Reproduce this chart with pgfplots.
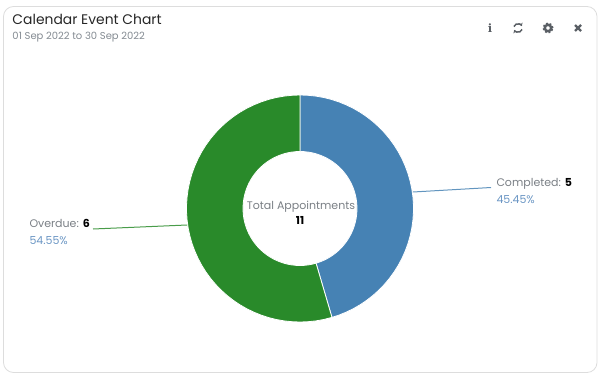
\documentclass[border=0pt]{standalone}
\usepackage{fontspec}
\setmainfont{Poppins}
\newfontfamily\sym{DejaVu Serif}
\usepackage{pgfplots}
\pgfplotsset{compat=1.18}
\usetikzlibrary{arrows.meta}
\definecolor{cblue}{HTML}{4682B4}
\definecolor{cgreen}{HTML}{298A2A}
\definecolor{ctext}{HTML}{7A7F85}
\definecolor{cpct}{HTML}{6B96C4}
\definecolor{csub}{HTML}{848B92}
\definecolor{cicon}{HTML}{5A5F65}
\definecolor{cborder}{HTML}{DDDDDD}
\begin{document}
\begin{tikzpicture}[x=1pt,y=1pt]
\begin{axis}[
  scale only axis, width=607pt, height=378pt,
  xmin=-300, xmax=307, ymin=-169.5, ymax=208.5,
  axis lines=none, clip=false,
  /tikz/every node/.append style={inner sep=0pt, outer sep=0pt},
]
% page extent
\path (axis cs:-300,208.5) rectangle (axis cs:307,-169.5);
% frame
\draw[cborder, line width=0.8pt, rounded corners=10pt] (axis cs:-296.5,202) rectangle (axis cs:297,-164);
% Completed = 5 of 11 (45.45%)
\addplot[data cs=polar, fill=cblue, draw=white, line width=0.8pt] coordinates {
(90,113.5)(86,113.5)(82,113.5)(78,113.5)(74,113.5)(70,113.5)(66,113.5)(62,113.5)(58,113.5)(54,113.5)(50,113.5)
(46,113.5)(42,113.5)(38,113.5)(34,113.5)(30,113.5)(26,113.5)(22,113.5)(18,113.5)(14,113.5)(10,113.5)(6,113.5)(2,113.5)
(-2,113.5)(-6,113.5)(-10,113.5)(-14,113.5)(-18,113.5)(-22,113.5)(-26,113.5)(-30,113.5)(-34,113.5)(-38,113.5)(-42,113.5)
(-46,113.5)(-50,113.5)(-54,113.5)(-58,113.5)(-62,113.5)(-66,113.5)(-70,113.5)(-73.64,113.5)
(-73.64,57)(-70,57)(-66,57)(-62,57)(-58,57)(-54,57)(-50,57)(-46,57)(-42,57)(-38,57)(-34,57)(-30,57)(-26,57)(-22,57)(-18,57)(-14,57)(-10,57)(-6,57)(-2,57)
(2,57)(6,57)(10,57)(14,57)(18,57)(22,57)(26,57)(30,57)(34,57)(38,57)(42,57)(46,57)(50,57)(54,57)(58,57)(62,57)(66,57)(70,57)(74,57)(78,57)(82,57)(86,57)(90,57)
} -- cycle;
% Overdue = 6 of 11 (54.55%)
\addplot[data cs=polar, fill=cgreen, draw=white, line width=0.8pt] coordinates {
(-73.64,113.5)(-78,113.5)(-82,113.5)(-86,113.5)(-90,113.5)(-94,113.5)(-98,113.5)(-102,113.5)(-106,113.5)(-110,113.5)(-114,113.5)
(-118,113.5)(-122,113.5)(-126,113.5)(-130,113.5)(-134,113.5)(-138,113.5)(-142,113.5)(-146,113.5)(-150,113.5)(-154,113.5)(-158,113.5)
(-162,113.5)(-166,113.5)(-170,113.5)(-174,113.5)(-178,113.5)(-182,113.5)(-186,113.5)(-190,113.5)(-194,113.5)(-198,113.5)(-202,113.5)
(-206,113.5)(-210,113.5)(-214,113.5)(-218,113.5)(-222,113.5)(-226,113.5)(-230,113.5)(-234,113.5)(-238,113.5)(-242,113.5)(-246,113.5)
(-250,113.5)(-254,113.5)(-258,113.5)(-262,113.5)(-266,113.5)(-270,113.5)
(-270,57)(-266,57)(-262,57)(-258,57)(-254,57)(-250,57)(-246,57)(-242,57)(-238,57)(-234,57)(-230,57)(-226,57)(-222,57)(-218,57)(-214,57)(-210,57)
(-206,57)(-202,57)(-198,57)(-194,57)(-190,57)(-186,57)(-182,57)(-178,57)(-174,57)(-170,57)(-166,57)(-162,57)(-158,57)(-154,57)(-150,57)(-146,57)
(-142,57)(-138,57)(-134,57)(-130,57)(-126,57)(-122,57)(-118,57)(-114,57)(-110,57)(-106,57)(-102,57)(-98,57)(-94,57)(-90,57)(-86,57)(-82,57)(-78,57)(-73.64,57)
} -- cycle;
% leaders
\addplot[cblue!85, no markers, line width=1pt] coordinates {(113,16.5)(191,21)};
\addplot[cgreen!85, no markers, line width=1pt] coordinates {(-207,-20.5)(-113,-16.5)};
% title
\node[anchor=base west, font=\fontsize{13.9}{15}\selectfont, text=black!85] at (axis cs:-287.5,184) {Calendar Event Chart};
\node[anchor=base west, font=\fontsize{10}{11}\selectfont, text=csub] at (axis cs:-287.5,169) {01 Sep 2022 to 30 Sep 2022};
% centre
\node[anchor=base, font=\fontsize{11}{12}\selectfont, text=ctext] at (axis cs:1,-1) {Total Appointments};
\node[anchor=base, font=\fontsize{11}{12}\selectfont\bfseries, text=black] at (axis cs:0,-15.5) {11};
% labels
\node[anchor=base west, font=\fontsize{11}{12}\selectfont, text=ctext] at (axis cs:196.5,22) {Completed: \textcolor{black}{\bfseries 5}};
\node[anchor=base west, font=\fontsize{11}{12}\selectfont, text=cpct] at (axis cs:196.5,5.5) {45.45\%};
\node[anchor=base west, font=\fontsize{11}{12}\selectfont, text=ctext] at (axis cs:-270.5,-18.5) {Overdue: \textcolor{black}{\bfseries 6}};
\node[anchor=base west, font=\fontsize{11}{12}\selectfont, text=cpct] at (axis cs:-270.5,-36) {54.55\%};
% icons
\node[anchor=center, font=\sym\bfseries\fontsize{11.5}{12}\selectfont, text=cicon] at (axis cs:190,180.5) {i};
\draw[cicon, line width=1.5pt, -{Stealth[length=3.2pt,width=4.2pt]}] (axis cs:218,180.5) ++(160:4.3pt) arc[start angle=160, end angle=25, radius=4.3pt];
\draw[cicon, line width=1.5pt, -{Stealth[length=3.2pt,width=4.2pt]}] (axis cs:218,180.5) ++(-20:4.3pt) arc[start angle=-20, end angle=-155, radius=4.3pt];
\draw[cicon, line width=2.4pt] (axis cs:248,180.5) circle[radius=3.2pt];
\draw[cicon, line width=1.6pt, dash pattern=on 1.9pt off 1.87pt] (axis cs:248,180.5) circle[radius=4.8pt];
\draw[cicon, line width=2.2pt] (axis cs:275,183.5) -- (axis cs:281,177.5) (axis cs:275,177.5) -- (axis cs:281,183.5);
\end{axis}
\end{tikzpicture}
\end{document}
